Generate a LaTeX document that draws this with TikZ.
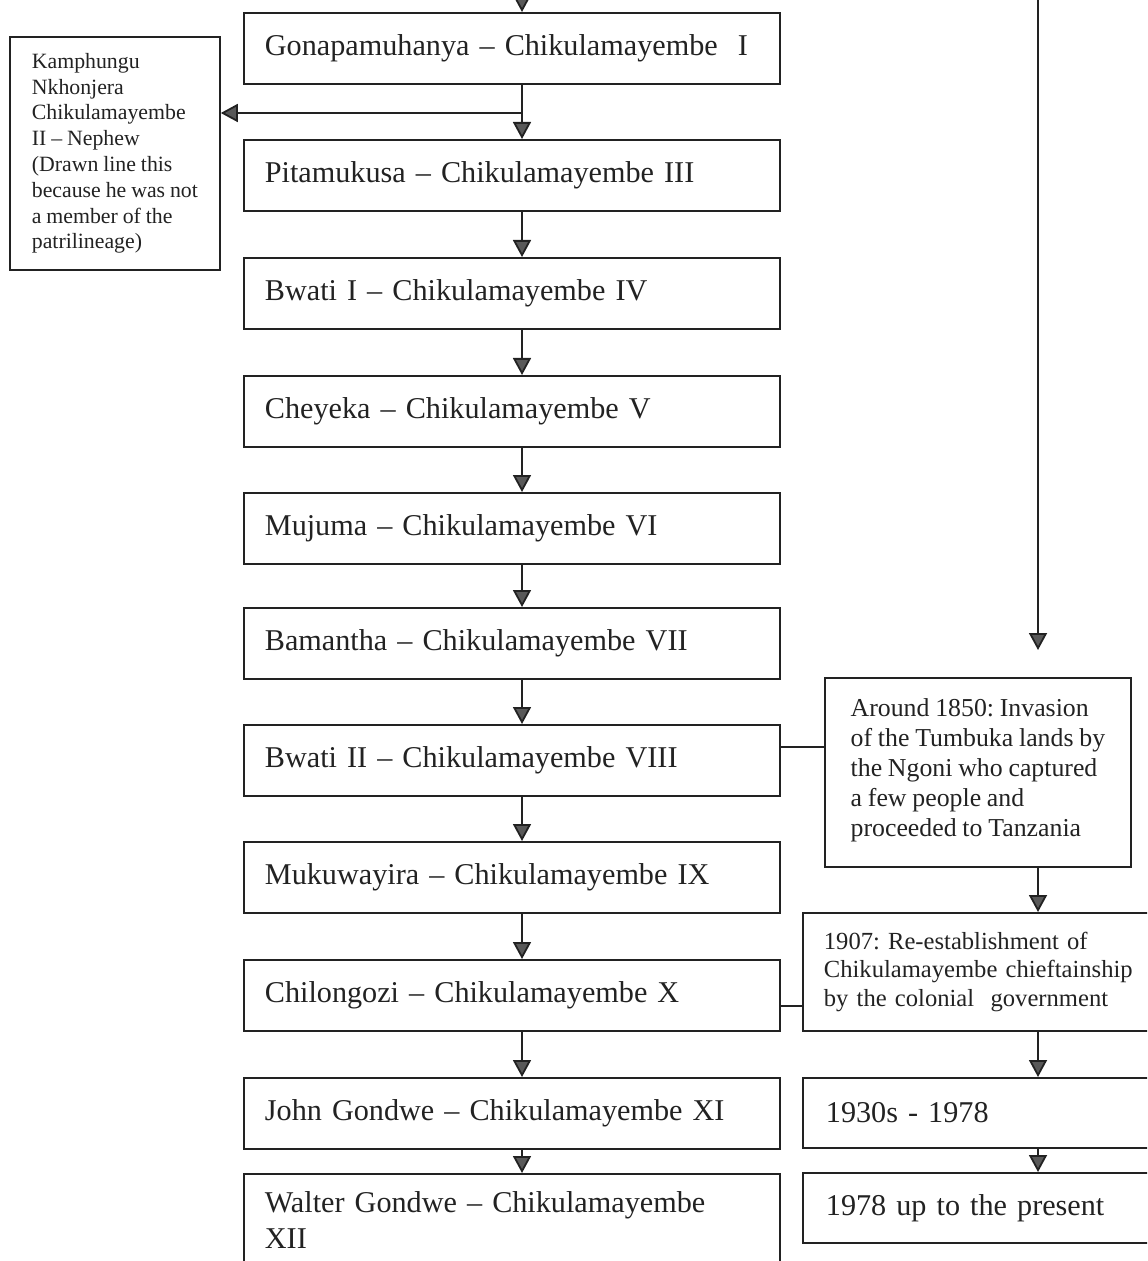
\documentclass[tikz,border=0pt]{standalone}
\usepackage{fontspec}
\setmainfont{Liberation Serif}[WordSpace=0.9]
\usetikzlibrary{arrows.meta}
\definecolor{ink}{HTML}{222222}
\frenchspacing

\begin{document}
\begin{tikzpicture}[
    x=0.5pt, y=-0.5pt,
    >={Triangle[width=9pt,length=8.5pt,fill=black!65]},
    line width=0.9pt,
    color=ink,
    reign/.style={draw, anchor=north west, minimum width=268pt,
        minimum height=35.5pt, text width=247pt, inner xsep=10.5pt,
        align=left, font=\fontsize{15.1}{18}\selectfont},
    event/.style={draw, anchor=north west, align=left,
        font=\fontsize{12.6}{14.8}\selectfont}
]
    \useasboundingbox (0,0) rectangle (1147,1261);
    \clip (0,0) rectangle (1147,1261);

    % Line of the chiefs
    \node[reign] (r1) at (243,12) {\mbox{Gonapamuhanya – Chikulamayembe\ \ I}};
    \node[reign] (r2) at (243,139) {Pitamukusa – Chikulamayembe III};
    \node[reign] (r3) at (243,257) {Bwati I – Chikulamayembe IV};
    \node[reign] (r4) at (243,375) {Cheyeka – Chikulamayembe V};
    \node[reign] (r5) at (243,492) {Mujuma – Chikulamayembe VI};
    \node[reign] (r6) at (243,607) {Bamantha – Chikulamayembe VII};
    \node[reign] (r7) at (243,724) {Bwati II – Chikulamayembe VIII};
    \node[reign] (r8) at (243,841) {Mukuwayira – Chikulamayembe IX};
    \node[reign] (r9) at (243,959) {Chilongozi – Chikulamayembe X};
    \node[reign] (r10) at (243,1077) {John Gondwe – Chikulamayembe XI};
    \node[reign, minimum height=0pt, inner ysep=9pt] (r11)
        at (243,1173) {Walter Gondwe – Chikulamayembe\\XII\rule[-16pt]{0pt}{16pt}};

    % Nephew
    \node[draw, anchor=north west, minimum width=105pt, minimum height=116.5pt,
        align=left, font=\fontsize{10.9}{12.9}\selectfont] (nephew) at (9,36)
        {Kamphungu\\Nkhonjera\\Chikulamayembe\\II – Nephew\\(Drawn line this\\because he was not\\a member of the\\patrilineage)};

    % Events
    \node[event, minimum width=153pt, minimum height=94.5pt,
        font=\fontsize{12.9}{15}\selectfont] (inv) at (824,677)
        {Around 1850: Invasion\\of the Tumbuka lands by\\the Ngoni who captured\\a few people and\\proceeded to Tanzania\rule[-5pt]{0pt}{5pt}};
    \node[event, minimum width=200pt, minimum height=59pt, text width=179pt,
        inner xsep=10.5pt, font=\fontsize{12.3}{14.3}\selectfont] (est) at (802,912)
        {1907: Re-establishment of\\Chikulamayembe chieftainship\\by the colonial\ \ government};
    \node[event, minimum width=200pt, minimum height=35pt, text width=177pt,
        inner xsep=11.5pt, font=\fontsize{15.1}{18}\selectfont] (p1930) at (802,1077)
        {1930s - 1978};
    \node[event, minimum width=200pt, minimum height=35pt, text width=177pt,
        inner xsep=11.5pt, font=\fontsize{15.1}{18}\selectfont] (p1978) at (802,1172)
        {1978 up to the present};

    % Main arrows
    \coordinate (col) at (522,0);
    \coordinate (top) at (522,-40);
    \coordinate (split) at (522,113);
    \draw[->] (top) -- (r1.north -| col);
    \draw (r1.south -| col) -- (split);
    \draw[->] (split) -- (r2.north -| col);
    \draw[->] (split) -- (nephew.east |- split);
    \draw[->] (r2.south -| col) -- (r3.north -| col);
    \draw[->] (r3.south -| col) -- (r4.north -| col);
    \draw[->] (r4.south -| col) -- (r5.north -| col);
    \draw[->] (r5.south -| col) -- (r6.north -| col);
    \draw[->] (r6.south -| col) -- (r7.north -| col);
    \draw[->] (r7.south -| col) -- (r8.north -| col);
    \draw[->] (r8.south -| col) -- (r9.north -| col);
    \draw[->] (r9.south -| col) -- (r10.north -| col);
    \draw[->] (r10.south -| col) -- (r11.north -| col);

    % Right arrows
    \coordinate (rtop) at (1038,-20);
    \draw[->, shorten >=13.5pt] (rtop) -- (inv.north -| rtop);
    \draw[->] (inv.south -| rtop) -- (est.north -| rtop);
    \draw[->] (est.south -| rtop) -- (p1930.north -| rtop);
    \draw[->] (p1930.south -| rtop) -- (p1978.north -| rtop);

    % Side ties
    \coordinate (tie1) at (0,747);
    \coordinate (tie2) at (0,1006);
    \draw (r7.east |- tie1) -- (inv.west |- tie1);
    \draw (r9.east |- tie2) -- (est.west |- tie2);

\end{tikzpicture}
\end{document}
